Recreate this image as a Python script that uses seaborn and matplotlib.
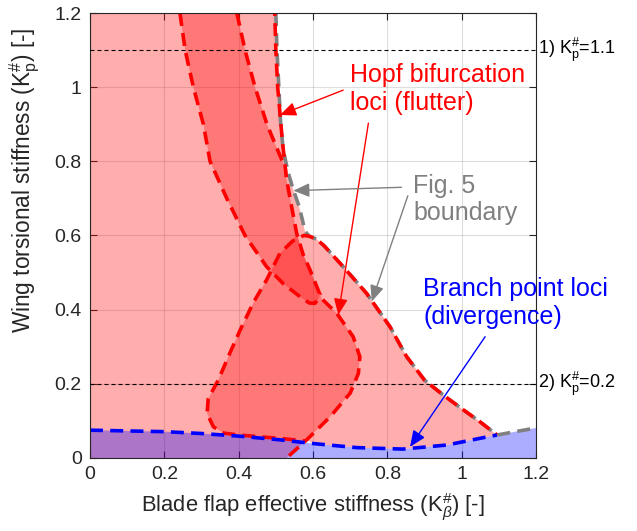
import numpy as np
import pandas as pd
import seaborn as sns
import matplotlib.pyplot as plt

# curves (x = K_beta#, y = K_p#)

# Fig. 5 flutter boundary (grey)
bound_x = [0.5, 0.503, 0.508, 0.513, 0.52, 0.533, 0.547, 0.562, 0.572, 0.578, 0.59, 0.61,
           0.63, 0.681, 0.744, 0.807, 0.852, 0.9, 0.95, 1.0, 1.05, 1.095, 1.2]
bound_y = [1.2, 1.1, 1.0, 0.9, 0.83, 0.77, 0.723, 0.68, 0.64, 0.612, 0.598, 0.59,
           0.572, 0.516, 0.444, 0.354, 0.273, 0.21, 0.17, 0.133, 0.097, 0.062, 0.081]

# Hopf loci (red)
hopf_a_x = [0.242, 0.256, 0.278, 0.305, 0.323, 0.368, 0.417, 0.475, 0.52, 0.565, 0.59, 0.605, 0.615, 0.62]
hopf_a_y = [1.2, 1.1, 1.0, 0.9, 0.8, 0.7, 0.6, 0.516, 0.47, 0.435, 0.418, 0.417, 0.43, 0.445]

hopf_b_x = [0.395, 0.417, 0.444, 0.476, 0.505, 0.522]
hopf_b_y = [1.2, 1.1, 1.0, 0.9, 0.83, 0.79]

hopf_c_x = [0.497, 0.5, 0.505, 0.511, 0.518, 0.529, 0.542, 0.556, 0.573, 0.592, 0.623, 0.664,
            0.708, 0.726, 0.722, 0.70, 0.646, 0.583, 0.529]
hopf_c_y = [1.2, 1.1, 1.0, 0.93, 0.85, 0.75, 0.68, 0.606, 0.55, 0.507, 0.43, 0.39,
            0.327, 0.273, 0.228, 0.175, 0.111, 0.049, 0.0]

lobe_x = [0.58, 0.52, 0.46, 0.40, 0.36, 0.332, 0.315, 0.318, 0.345, 0.375, 0.404, 0.44,
          0.475, 0.511, 0.545, 0.575]
lobe_y = [0.046, 0.052, 0.057, 0.062, 0.067, 0.084, 0.12, 0.16, 0.21, 0.28, 0.345, 0.42,
          0.48, 0.552, 0.585, 0.6]

# branch point loci (blue)
div_x = [0.0, 0.1, 0.2, 0.3, 0.4, 0.511, 0.6, 0.717, 0.842, 0.96, 1.049, 1.095]
div_y = [0.075, 0.073, 0.071, 0.066, 0.059, 0.049, 0.039, 0.028, 0.024, 0.035, 0.053, 0.062]

# the two cuts
cut_levels = [1.1, 0.2]
cut_labels = ["1) $\\mathrm{K}^{\\#}_{\\mathrm{p}}$=1.1", "2) $\\mathrm{K}^{\\#}_{\\mathrm{p}}$=0.2"]

sns.set_style("ticks")
plt.rcParams["font.family"] = ["Liberation Sans", "DejaVu Sans"]
plt.rcParams["mathtext.fontset"] = "custom"
plt.rcParams["mathtext.rm"] = "Liberation Sans"
plt.rcParams["mathtext.it"] = "Liberation Sans:italic"

fig = plt.figure(figsize=(6.37, 5.31), dpi=100)
ax = fig.add_axes([0.1413, 0.1375, 0.7002, 0.838])

red = (1, 0, 0)
blue = (0, 0, 1)
grey = (0.5, 0.5, 0.5)
dash = (3.6, 2.0)

# filled regions
pts = list(zip(bound_x, bound_y))
divp = list(zip(div_x, div_y))
cp = list(zip(hopf_c_x, hopf_c_y))
flutter = [(0, 0), (0, 1.2)] + pts[:22] + [p for p in divp[::-1] if p[0] > 0.59] + cp[-2:]
ax.fill(*zip(*flutter), color=red, alpha=0.32, lw=0, zorder=1)

diverg = divp + [(1.2, 0.081), (1.2, 0), (0, 0)]
ax.fill(*zip(*diverg), color=blue, alpha=0.32, lw=0, zorder=1)

band = list(zip(hopf_a_x, hopf_a_y)) + cp[10:4:-1] + list(zip(hopf_b_x, hopf_b_y))[::-1]
ax.fill(*zip(*band), color=red, alpha=0.3, lw=0, zorder=1)

lobe = list(zip(lobe_x, lobe_y))[:-1] + cp[7:18]
ax.fill(*zip(*lobe), color=red, alpha=0.3, lw=0, zorder=1)

# dashed loci
sns.lineplot(x=bound_x, y=bound_y, sort=False, estimator=None, color=grey, lw=2.6,
             linestyle=(0, dash), ax=ax)
sns.lineplot(x=hopf_a_x, y=hopf_a_y, sort=False, estimator=None, color=red, lw=2.6,
             linestyle=(0, dash), ax=ax)
sns.lineplot(x=hopf_b_x, y=hopf_b_y, sort=False, estimator=None, color=red, lw=2.6,
             linestyle=(0, dash), ax=ax)
sns.lineplot(x=hopf_c_x, y=hopf_c_y, sort=False, estimator=None, color=red, lw=2.6,
             linestyle=(2.8, dash), ax=ax)
d_x = lobe_x + bound_x[10:22]
d_y = lobe_y + bound_y[10:22]
sns.lineplot(x=d_x, y=d_y, sort=False, estimator=None, color=red, lw=2.6,
             linestyle=(2.8, dash), ax=ax)
sns.lineplot(x=div_x, y=div_y, sort=False, estimator=None, color=blue, lw=2.6,
             linestyle=(0, dash), ax=ax)

for lev, lab in zip(cut_levels, cut_labels):
    ax.axhline(lev, color="black", lw=0.8, linestyle=(0, (3.6, 2.7)), zorder=3)
    ax.text(1.206, lev, lab, fontsize=13, va="center", ha="left", color="black")

# annotations
arrow = "-|>,head_length=0.7,head_width=0.3"
akw = dict(lw=1, mutation_scale=14, shrinkA=0, shrinkB=0)
ax.text(0.70, 0.995, "Hopf bifurcation\nloci (flutter)", color=red, fontsize=18,
        va="center", ha="left", linespacing=1.25)
ax.annotate("", xy=(0.511, 0.925), xytext=(0.681, 0.992),
            arrowprops=dict(arrowstyle=arrow, color=red, **akw))
ax.annotate("", xy=(0.668, 0.386), xytext=(0.749, 0.903),
            arrowprops=dict(arrowstyle=arrow, color=red, **akw))

ax.text(0.87, 0.697, "Fig. 5\nboundary", color=grey, fontsize=18,
        va="center", ha="left", linespacing=1.15)
ax.annotate("", xy=(0.547, 0.721), xytext=(0.838, 0.73),
            arrowprops=dict(arrowstyle=arrow, color=grey, **akw))
ax.annotate("", xy=(0.758, 0.422), xytext=(0.855, 0.707),
            arrowprops=dict(arrowstyle=arrow, color=grey, **akw))

ax.text(0.897, 0.418, "Branch point loci\n(divergence)", color=blue, fontsize=18,
        va="center", ha="left", linespacing=1.25)
ax.annotate("", xy=(0.861, 0.03), xytext=(1.063, 0.327),
            arrowprops=dict(arrowstyle=arrow, color=blue, **akw))

ax.set_xlim(0, 1.2)
ax.set_ylim(0, 1.2)
ticks = [0, 0.2, 0.4, 0.6, 0.8, 1.0, 1.2]
ax.set_xticks(ticks)
ax.set_yticks(ticks)
ax.set_xticklabels(["0", "0.2", "0.4", "0.6", "0.8", "1", "1.2"])
ax.set_yticklabels(["0", "0.2", "0.4", "0.6", "0.8", "1", "1.2"])
ax.grid(True, color=(0.15, 0.15, 0.15), alpha=0.15, lw=0.8)
ax.tick_params(direction="in", top=True, right=True, length=5, width=0.8,
               labelsize=14, colors=(0.15, 0.15, 0.15), pad=6)
for s in ax.spines.values():
    s.set_visible(True)
    s.set_color((0.15, 0.15, 0.15))
    s.set_linewidth(0.8)

ax.set_xlabel("Blade flap effective stiffness ($\\mathrm{K}^{\\#}_{\\beta}$) [-]", fontsize=15.8,
              color=(0.15, 0.15, 0.15), labelpad=6)
ax.set_ylabel("Wing torsional stiffness ($\\mathrm{K}^{\\#}_{\\mathrm{p}}$) [-]", fontsize=16.3,
              color=(0.15, 0.15, 0.15))
ax.yaxis.set_label_coords(-0.108, 0.625)

fig.savefig("out.png", dpi=100)
